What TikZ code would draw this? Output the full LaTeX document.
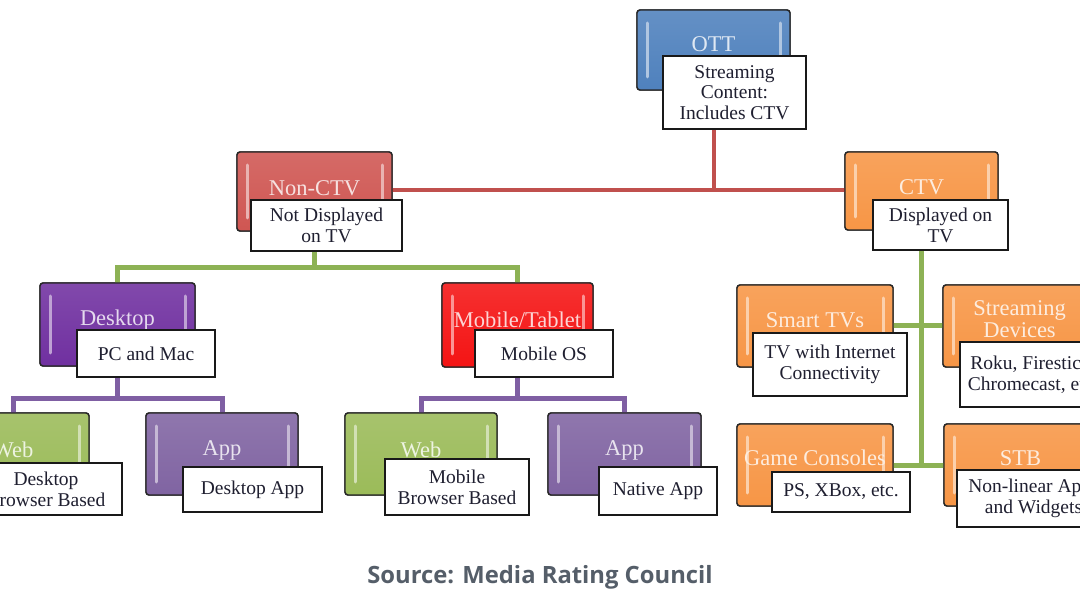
\documentclass[tikz,border=0pt]{standalone}
\usepackage{fontspec}
\setmainfont{Liberation Serif}
\newfontfamily\capfont{Open Sans}
\usetikzlibrary{calc}
\definecolor{ottblue}{HTML}{4F81BD}
\definecolor{ncred}{HTML}{CF5652}
\definecolor{ctvorange}{HTML}{F79646}
\definecolor{dpurple}{HTML}{7030A0}
\definecolor{mred}{HTML}{F41414}
\definecolor{webgreen}{HTML}{9BBB59}
\definecolor{apppurple}{HTML}{8064A2}
\definecolor{linered}{HTML}{C0504D}
\definecolor{linegreen}{HTML}{8DB255}
\definecolor{linepurple}{HTML}{7F5FA3}
\definecolor{textdark}{HTML}{1F1F30}
\definecolor{capgrey}{HTML}{555E69}
\newcommand\bevelbox[2]{%
  \draw[bevelline=#2] ($(#1.north west)+(10,13)$) -- ($(#1.south west)+(10,-13)$);
  \draw[bevelline=#2] ($(#1.north east)+(-10,13)$) -- ($(#1.south east)+(-10,-13)$);}
\tikzset{
  mainbox/.style={draw=black!85, line width=1.4pt, rounded corners=3pt, inner sep=0pt, outer sep=0pt,
    top color=#1!88!white, bottom color=#1, minimum width=153pt, minimum height=82pt},
  bevelline/.style={line width=3pt, line cap=round, draw=#1!45!white},
  mlabel/.style={font=\fontsize{22.5}{22}\selectfont, text=#1!18!white, align=center, inner sep=0pt},
  subbox/.style={draw=black!90, line width=1.3pt, fill=white, inner sep=0pt, outer sep=0pt, align=center,
    font=\fontsize{19.5}{20.8}\selectfont, text=textdark},
  redline/.style={draw=linered, line width=4pt},
  greenline/.style={draw=linegreen, line width=5pt},
  purpleline/.style={draw=linepurple, line width=5pt},
}
\begin{document}
\begin{tikzpicture}[x=1pt,y=-1pt]
\useasboundingbox (0,0) rectangle (1080,604);
\clip (0,0) rectangle (1080,604);
% main boxes (positions)
\path
 node[mainbox=ottblue, minimum height=80pt] (ott) at (713.5,50) {}
 node[mainbox=ncred, minimum width=155pt, minimum height=79pt] (nc) at (314.5,191.5) {}
 node[mainbox=ctvorange, minimum height=78pt] (ctv) at (921.5,191) {}
 node[mainbox=dpurple, minimum width=155pt, minimum height=83pt] (desk) at (117.5,324.5) {}
 node[mainbox=mred, minimum width=151pt, minimum height=84pt] (mob) at (517.5,325) {}
 node[mainbox=ctvorange, minimum width=156pt] (smart) at (815,326) {}
 node[mainbox=ctvorange] (sd) at (1019.5,326) {}
 node[mainbox=ctvorange, minimum width=156pt] (game) at (815,465) {}
 node[mainbox=ctvorange] (stb) at (1020.5,465) {}
 node[mainbox=webgreen, minimum width=152pt] (dweb) at (13,454) {}
 node[mainbox=apppurple, minimum width=152pt] (dapp) at (222,454) {}
 node[mainbox=webgreen, minimum width=152pt] (mweb) at (421,454) {}
 node[mainbox=apppurple] (mapp) at (624.5,454) {};
% connectors
\coordinate (redbus) at (714,190);
\coordinate (gbus) at (316,268);
\coordinate (pbus) at (0,398);
\draw[redline] (ott.center) -- (ott.center |- redbus);
\draw[redline] (nc.center |- redbus) -- (ctv.center |- redbus);
\draw[greenline] (nc.center) -- (nc.center |- gbus);
\draw[greenline] (desk.center) -- (desk.center |- gbus) -- (mob.center |- gbus) -- (mob.center);
\draw[greenline] (ctv.center) -- (ctv.center |- game.center);
\draw[greenline] (smart.center) -- (sd.center);
\draw[greenline] (game.center) -- (stb.center);
\draw[purpleline] (desk.center) -- (desk.center |- pbus);
\draw[purpleline] (dweb.center) -- (dweb.center |- pbus) -- (dapp.center |- pbus) -- (dapp.center);
\draw[purpleline] (mob.center) -- (mob.center |- pbus);
\draw[purpleline] (mweb.center) -- (mweb.center |- pbus) -- (mapp.center |- pbus) -- (mapp.center);
% redraw main boxes over connectors
\node[mainbox=ottblue, minimum height=80pt] at (ott) {};
\node[mainbox=ncred, minimum width=155pt, minimum height=79pt] at (nc) {};
\node[mainbox=ctvorange, minimum height=78pt] at (ctv) {};
\node[mainbox=dpurple, minimum width=155pt, minimum height=83pt] at (desk) {};
\node[mainbox=mred, minimum width=151pt, minimum height=84pt] at (mob) {};
\node[mainbox=ctvorange, minimum width=156pt] at (smart) {};
\node[mainbox=ctvorange] at (sd) {};
\node[mainbox=ctvorange, minimum width=156pt] at (game) {};
\node[mainbox=ctvorange] at (stb) {};
\node[mainbox=webgreen, minimum width=152pt] at (dweb) {};
\node[mainbox=apppurple, minimum width=152pt] at (dapp) {};
\node[mainbox=webgreen, minimum width=152pt] at (mweb) {};
\node[mainbox=apppurple] at (mapp) {};
% bevels
\bevelbox{ott}{ottblue}
\bevelbox{nc}{ncred}
\bevelbox{ctv}{ctvorange}
\bevelbox{desk}{dpurple}
\bevelbox{mob}{mred}
\bevelbox{smart}{ctvorange}
\bevelbox{sd}{ctvorange}
\bevelbox{game}{ctvorange}
\bevelbox{stb}{ctvorange}
\bevelbox{dweb}{webgreen}
\bevelbox{dapp}{apppurple}
\bevelbox{mweb}{webgreen}
\bevelbox{mapp}{apppurple}
% labels
\node[mlabel=ottblue] (ottL) at (713.5,44) {OTT};
\node[mlabel=ncred] (ncL) at (314.5,188) {Non-CTV};
\node[mlabel=ctvorange] (ctvL) at (921.5,187) {CTV};
\node[mlabel=dpurple] (deskL) at (117.5,320) {Desktop};
\node[mlabel=mred] (mobL) at (517.5,320) {Mobile/Tablet};
\node[mlabel=ctvorange] (smartL) at (815,320) {Smart TVs};
\node[mlabel=ctvorange] (sdL) at (1019.5,319) {Streaming\\Devices};
\node[mlabel=ctvorange] (gameL) at (815,458) {Game Consoles};
\node[mlabel=ctvorange] (stbL) at (1020.5,458) {STB};
\node[mlabel=webgreen] (dwebL) at (13,450) {Web};
\node[mlabel=apppurple] (dappL) at (222,450) {App};
\node[mlabel=webgreen] (mwebL) at (421,450) {Web};
\node[mlabel=apppurple] (mappL) at (624.5,450) {App};
% sub boxes
\node[subbox, minimum width=143pt, minimum height=73pt] (ottS) at (734.5,92.5) {Streaming\\Content:\\Includes CTV};
\node[subbox, minimum width=151pt, minimum height=51pt] (ncS) at (326.5,225.5) {Not Displayed\\on TV};
\node[subbox, minimum width=135pt, minimum height=50pt] (ctvS) at (940.5,225) {Displayed on\\TV};
\node[subbox, minimum width=138pt, minimum height=47pt] (deskS) at (146,353.5) {PC and Mac};
\node[subbox, minimum width=138pt, minimum height=47pt] (mobS) at (544,353.5) {Mobile OS};
\node[subbox, minimum width=154pt, minimum height=63pt] (smartS) at (830,364.5) {TV with Internet\\Connectivity};
\node[subbox, minimum width=146pt, minimum height=65pt] (sdS) at (1033,374.5) {Roku, Firestick,\\Chromecast, etc.};
\node[subbox, minimum width=138pt, minimum height=40pt] (gameS) at (841,492) {PS, XBox, etc.};
\node[subbox, minimum width=153pt, minimum height=57pt] (stbS) at (1033.5,498.5) {Non-linear Apps\\and Widgets};
\node[subbox, minimum width=152pt, minimum height=52pt] (dwebS) at (46,489) {Desktop\\Browser Based};
\node[subbox, minimum width=139pt, minimum height=45pt] (dappS) at (252.5,489.5) {Desktop App};
\node[subbox, minimum width=144pt, minimum height=56pt] (mwebS) at (457,487) {Mobile\\Browser Based};
\node[subbox, minimum width=118pt, minimum height=48pt] (mappS) at (658,491) {Native App};
% caption
\node[font=\capfont\bfseries\fontsize{23.8}{26}\selectfont, text=capgrey, inner sep=0pt] (cap) at (540,577) {Source: Media Rating Council};
\end{tikzpicture}
\end{document}
